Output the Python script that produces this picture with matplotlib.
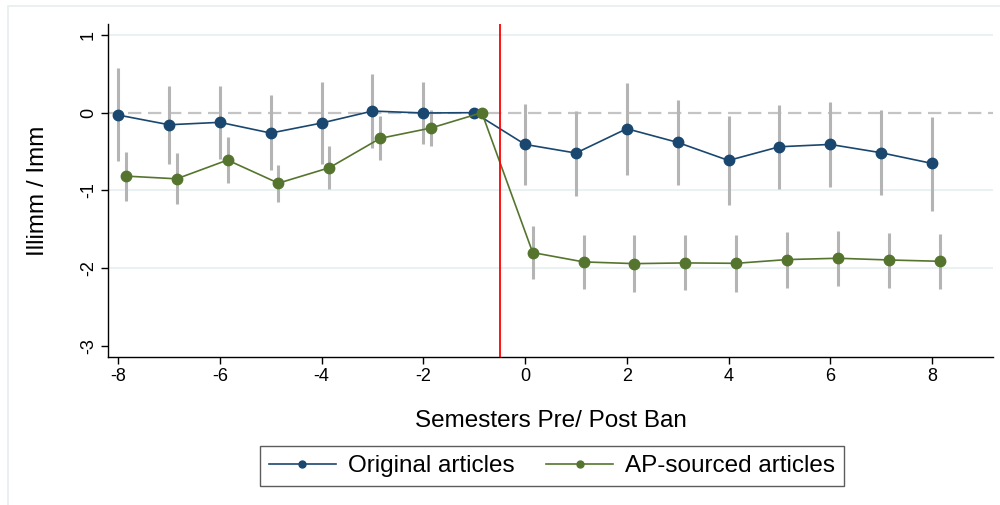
import matplotlib
matplotlib.use("Agg")
import matplotlib.pyplot as plt
from matplotlib.patches import Rectangle
from matplotlib.lines import Line2D

plt.rcParams['font.family'] = ['Liberation Sans', 'DejaVu Sans']

semesters = [-8, -7, -6, -5, -4, -3, -2, -1, 0, 1, 2, 3, 4, 5, 6, 7, 8]
orig_est = [-0.03, -0.155, -0.124, -0.262, -0.133, 0.021, -0.004, 0.0,
            -0.408, -0.519, -0.206, -0.382, -0.614, -0.438, -0.408, -0.515, -0.652]
orig_hi = [0.575, 0.348, 0.348, 0.223, 0.399, 0.498, 0.395, None,
           0.112, 0.021, 0.386, 0.167, -0.039, 0.103, 0.137, 0.030, -0.052]
orig_lo = [-0.627, -0.657, -0.597, -0.742, -0.657, -0.455, -0.399, None,
           -0.927, -1.069, -0.803, -0.931, -1.189, -0.987, -0.957, -1.060, -1.258]
ap_est = [-0.815, -0.850, -0.609, -0.906, -0.708, -0.330, -0.197, 0.0,
          -1.798, -1.918, -1.940, -1.931, -1.936, -1.888, -1.871, -1.893, -1.910]
ap_hi = [-0.502, -0.515, -0.309, -0.670, -0.425, -0.047, 0.034, None,
         -1.451, -1.571, -1.575, -1.571, -1.567, -1.528, -1.524, -1.541, -1.554]
ap_lo = [-1.129, -1.180, -0.901, -1.142, -0.987, -0.614, -0.425, None,
         -2.142, -2.262, -2.300, -2.283, -2.305, -2.253, -2.223, -2.253, -2.270]
ap_offset = 0.15
ban_line = -0.5

xticks = [-8, -6, -4, -2, 0, 2, 4, 6, 8]
yticks = [1, 0, -1, -2, -3]

BLUE = '#1a476f'
GREEN = '#55752f'
CI = '#b4b4b4'
GRID = '#e8f0f2'

fig = plt.figure(figsize=(10, 5.05), dpi=100)
fig.patches.append(Rectangle((0.008, -0.1), 1.2, 1.088, transform=fig.transFigure,
                             fill=False, edgecolor='#e6eef0', linewidth=1.2, zorder=0))

ax = fig.add_axes([0.108, 0.2931, 0.885, 0.6594])
ax.set_xlim(-8.2, 9.2)
ax.set_ylim(-3.14, 1.14)

for g in [1, -1, -2]:
    ax.axhline(g, color=GRID, lw=1.3, zorder=0)
ax.axhline(0, color='#c4c4c4', lw=1.6, ls=(0, (6, 3)), zorder=1)

ap_x = [s + ap_offset for s in semesters]
for x, lo, hi in zip(semesters, orig_lo, orig_hi):
    if lo is not None:
        ax.vlines(x, lo, hi, color=CI, lw=2.2, zorder=2)
for x, lo, hi in zip(ap_x, ap_lo, ap_hi):
    if lo is not None:
        ax.vlines(x, lo, hi, color=CI, lw=2.2, zorder=2)

ax.plot(semesters, orig_est, color=BLUE, lw=1.2, marker='o', ms=7.5, zorder=4,
        label='Original articles')
ax.plot(ap_x, ap_est, color=GREEN, lw=1.2, marker='o', ms=7.5, zorder=4,
        label='AP-sourced articles')
ax.axvline(ban_line, color='#ff0000', lw=1.3, zorder=5)

ax.spines['top'].set_visible(False)
ax.spines['right'].set_visible(False)
for s in ['left', 'bottom']:
    ax.spines[s].set_linewidth(1.0)
ax.set_xticks(xticks)
ax.set_xticklabels([str(t) for t in xticks])
ax.set_yticks(yticks)
ax.set_yticklabels([str(t) for t in yticks], rotation=90, va='center')
ax.tick_params(axis='both', labelsize=13, length=5, width=1)
ax.tick_params(axis='x', pad=3)
ax.tick_params(axis='y', pad=3)

fig.text(0.038, 1 - 191 / 505, 'Illimm / Imm', rotation=90, ha='center', va='center', fontsize=17.5)
fig.text(0.551, 1 - 421 / 505, 'Semesters Pre/ Post Ban', ha='center', va='center', fontsize=17.5)

handles = [Line2D([], [], color=BLUE, lw=1.2, marker='o', ms=5),
           Line2D([], [], color=GREEN, lw=1.2, marker='o', ms=5)]
leg = fig.legend(handles, ['Original articles', 'AP-sourced articles'], ncol=2,
                 loc='center', bbox_to_anchor=(0.552, 1 - 466 / 505), fontsize=17.5,
                 frameon=True, fancybox=False, edgecolor='#333333', handlelength=2.75,
                 columnspacing=1.3, handletextpad=0.5, borderpad=0.38, borderaxespad=0)
leg.get_frame().set_linewidth(1.0)

fig.savefig('out.png', dpi=100, facecolor='white')
